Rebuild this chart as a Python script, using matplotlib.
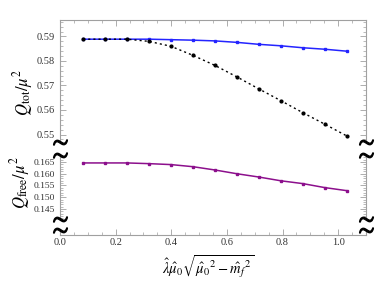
import matplotlib
matplotlib.use("Agg")
import matplotlib.pyplot as plt
from matplotlib.lines import Line2D
from matplotlib.ticker import MultipleLocator

plt.rcParams['mathtext.fontset'] = 'stix'
plt.rcParams['font.family'] = ['Liberation Serif', 'DejaVu Serif']

# data
x = [0.083, 0.162, 0.241, 0.320, 0.399, 0.478, 0.557,
     0.636, 0.715, 0.794, 0.873, 0.952, 1.031]
q_tot_blue = [0.5889, 0.5889, 0.5889, 0.5889, 0.5887, 0.5885, 0.5882,
              0.5876, 0.5868, 0.5862, 0.5854, 0.5848, 0.5840]
q_tot_black = [0.5889, 0.5889, 0.5889, 0.5880, 0.5860, 0.5823, 0.5782,
               0.5735, 0.5686, 0.5638, 0.5589, 0.5542, 0.5494]
q_free = [0.1646, 0.1646, 0.1646, 0.1643, 0.1639, 0.1630, 0.1616,
          0.1600, 0.1586, 0.1570, 0.1558, 0.1541, 0.1528]

x_ticks = [0.0, 0.2, 0.4, 0.6, 0.8, 1.0]
top_ticks = [0.55, 0.56, 0.57, 0.58, 0.59]
low_ticks = [0.145, 0.150, 0.155, 0.160, 0.165]

W, H = 391, 290
fig = plt.figure(figsize=(W / 100, H / 100), dpi=100)

frame_col = '#a0a0a0'
txt_col = '#333333'


def px_axes(l, t, r, b):
    return fig.add_axes([l / W, 1 - b / H, (r - l) / W, (b - t) / H])


def style(ax, show_top=False, show_bottom=False):
    for s in ax.spines.values():
        s.set_color(frame_col)
        s.set_linewidth(0.8)
    ax.spines['top'].set_visible(show_top)
    ax.spines['bottom'].set_visible(show_bottom)
    ax.set_xlim(0, 1.1)
    ax.set_facecolor('none')
    ax.tick_params(which='both', direction='in', colors=frame_col,
                   labelcolor=txt_col, right=True, top=show_top,
                   bottom=show_bottom)
    ax.tick_params(which='major', length=4, width=0.6)
    ax.tick_params(which='minor', length=2, width=0.5)
    ax.xaxis.set_major_locator(MultipleLocator(0.2))
    ax.xaxis.set_minor_locator(MultipleLocator(0.05))


# upper panel
ax1 = px_axes(60, 20, 366, 142)
style(ax1, show_top=True)
ax1.set_ylim(0.54694, 0.59673)
ax1.set_yticks(top_ticks)
ax1.set_yticklabels(['%.2f' % v for v in top_ticks], fontsize=7.5)
ax1.yaxis.set_minor_locator(MultipleLocator(0.002))
ax1.tick_params(axis='x', labeltop=False, labelbottom=False)
ax1.plot(x, q_tot_blue, color='#2424ff', lw=1.1, marker='s', ms=1.8)
ax1.plot(x, q_tot_black, color='black', lw=1.0, ls=(0, (1.5, 2.2)),
         marker='o', ms=2.0)

# lower panel
ax2 = px_axes(60, 155, 366, 219)
style(ax2)
ax2.set_ylim(0.14074, 0.16798)
ax2.set_yticks(low_ticks)
ax2.set_yticklabels(['%.3f' % v for v in low_ticks], fontsize=6.8)
ax2.yaxis.set_minor_locator(MultipleLocator(0.001))
ax2.tick_params(axis='x', labelbottom=False)
ax2.plot(x, q_free, color='#8c0f8c', lw=1.1, marker='s', ms=1.8)

# bottom strip with x axis
ax3 = px_axes(60, 230, 366, 235)
style(ax3, show_bottom=True)
ax3.set_ylim(0, 1)
ax3.set_yticks([])
ax3.tick_params(axis='y', which='both', left=False, right=False)
ax3.set_xticks(x_ticks)
ax3.set_xticklabels(['%.1f' % v for v in x_ticks], fontsize=7.5)
ax3.tick_params(axis='x', pad=2)

# axis labels
fig.text(23 / W, 1 - 92 / H, r'$Q_{\rm tot}/\mu^2$', rotation=90,
         ha='center', va='center', fontsize=12)
fig.text(20 / W, 1 - 183 / H, r'$Q_{\rm free}/\mu^2$', rotation=90,
         ha='center', va='center', fontsize=12)
fig.text(208 / W, 1 - 267 / H,
         r'$\hat{\lambda}\hat{\mu}_0\sqrt{\hat{\mu}_0{}^2-\hat{m}_f{}^2}$',
         ha='center', va='center', fontsize=10.5)

# break marks on the frame
for xp in (60, 366):
    for yp in (142, 155, 219, 230):
        fig.add_artist(Line2D([xp / W], [1 - yp / H], transform=fig.transFigure,
                              ls='none', marker=r'$\sim$', ms=10,
                              color='black', mew=0.9))

fig.savefig('out.png', dpi=100)
